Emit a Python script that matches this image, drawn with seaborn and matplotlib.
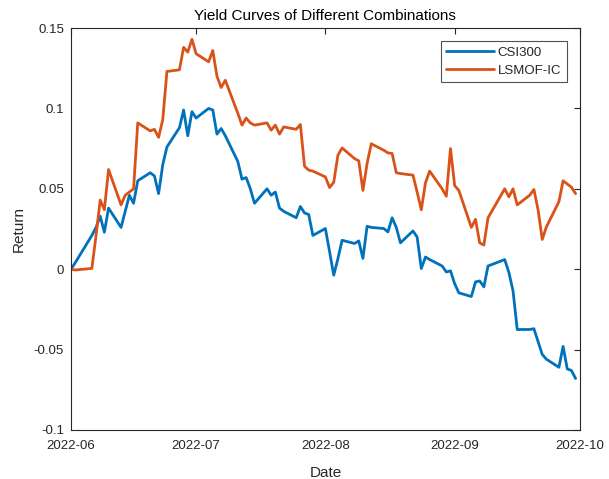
import pandas as pd
import matplotlib
matplotlib.use("Agg")
import matplotlib.pyplot as plt
import matplotlib.dates as mdates
from matplotlib.ticker import FuncFormatter
import seaborn as sns

# trading days (Jun 1 - Sep 30, 2022)
dates = [
    "2022-06-01", "2022-06-02", "2022-06-06", "2022-06-07", "2022-06-08", "2022-06-09", "2022-06-10",
    "2022-06-13", "2022-06-14", "2022-06-15", "2022-06-16", "2022-06-17",
    "2022-06-20", "2022-06-21", "2022-06-22", "2022-06-23", "2022-06-24",
    "2022-06-27", "2022-06-28", "2022-06-29", "2022-06-30", "2022-07-01",
    "2022-07-04", "2022-07-05", "2022-07-06", "2022-07-07", "2022-07-08",
    "2022-07-11", "2022-07-12", "2022-07-13", "2022-07-14", "2022-07-15",
    "2022-07-18", "2022-07-19", "2022-07-20", "2022-07-21", "2022-07-22",
    "2022-07-25", "2022-07-26", "2022-07-27", "2022-07-28", "2022-07-29",
    "2022-08-01", "2022-08-02", "2022-08-03", "2022-08-04", "2022-08-05",
    "2022-08-08", "2022-08-09", "2022-08-10", "2022-08-11", "2022-08-12",
    "2022-08-15", "2022-08-16", "2022-08-17", "2022-08-18", "2022-08-19",
    "2022-08-22", "2022-08-23", "2022-08-24", "2022-08-25", "2022-08-26",
    "2022-08-29", "2022-08-30", "2022-08-31", "2022-09-01", "2022-09-02",
    "2022-09-05", "2022-09-06", "2022-09-07", "2022-09-08", "2022-09-09",
    "2022-09-13", "2022-09-14", "2022-09-15", "2022-09-16",
    "2022-09-19", "2022-09-20", "2022-09-21", "2022-09-22", "2022-09-23",
    "2022-09-26", "2022-09-27", "2022-09-28", "2022-09-29", "2022-09-30",
]

csi300 = [
    0.000, 0.004, 0.021, 0.026, 0.033, 0.023, 0.038,
    0.026, 0.036, 0.046, 0.041, 0.055,
    0.060, 0.058, 0.047, 0.065, 0.076,
    0.088, 0.099, 0.083, 0.098, 0.094,
    0.100, 0.099, 0.084, 0.0875, 0.083,
    0.067, 0.056, 0.057, 0.050, 0.041,
    0.050, 0.046, 0.048, 0.038, 0.036,
    0.032, 0.039, 0.035, 0.034, 0.021,
    0.0253, 0.011, -0.0037, 0.0065, 0.018,
    0.016, 0.0176, 0.0067, 0.0267, 0.026,
    0.0253, 0.0232, 0.032, 0.026, 0.0164,
    0.0238, 0.020, 0.0004, 0.0076, 0.006,
    0.002, -0.0017, -0.001, -0.009, -0.0147,
    -0.017, -0.0079, -0.0073, -0.011, 0.002,
    0.006, -0.002, -0.0135, -0.0375,
    -0.0375, -0.037, -0.045, -0.053, -0.056,
    -0.061, -0.048, -0.062, -0.063, -0.068,
]

lsmof_ic = [
    0.000, -0.0005, 0.0005, 0.021, 0.043, 0.037, 0.062,
    0.040, 0.046, 0.048, 0.050, 0.091,
    0.086, 0.087, 0.082, 0.093, 0.123,
    0.124, 0.138, 0.135, 0.143, 0.134,
    0.129, 0.136, 0.120, 0.113, 0.1175,
    0.097, 0.0896, 0.094, 0.091, 0.0896,
    0.091, 0.0865, 0.0896, 0.084, 0.0885,
    0.087, 0.090, 0.064, 0.0616, 0.061,
    0.0574, 0.0508, 0.054, 0.0709, 0.0754,
    0.0688, 0.0674, 0.049, 0.0657, 0.078,
    0.074, 0.0723, 0.072, 0.060, 0.0595,
    0.0585, 0.048, 0.037, 0.0537, 0.061,
    0.050, 0.0454, 0.075, 0.052, 0.049,
    0.026, 0.031, 0.0164, 0.015, 0.032,
    0.050, 0.045, 0.050, 0.040,
    0.046, 0.0496, 0.037, 0.0185, 0.0263,
    0.042, 0.055, 0.053, 0.051, 0.047,
]

series_names = ["CSI300", "LSMOF-IC"]
colors = ["#0072BD", "#D95319"]
y_ticks = [-0.1, -0.05, 0, 0.05, 0.1, 0.15]
x_ticks = ["2022-06-01", "2022-07-01", "2022-08-01", "2022-09-01", "2022-10-01"]

df = pd.DataFrame({
    "Date": pd.to_datetime(dates * 2),
    "Return": csi300 + lsmof_ic,
    "Series": [series_names[0]] * len(dates) + [series_names[1]] * len(dates),
})

sns.set_style("white")
plt.rcParams["font.family"] = ["Liberation Sans", "DejaVu Sans"]
plt.rcParams["xtick.direction"] = "in"
plt.rcParams["ytick.direction"] = "in"

fig = plt.figure(figsize=(6.09, 4.79), dpi=100)
ax = fig.add_axes([0.1166, 0.1023, 0.8354, 0.8392])

sns.lineplot(data=df, x="Date", y="Return", hue="Series",
             palette=colors, linewidth=2.0, ax=ax)

ax.set_xlim(pd.Timestamp("2022-06-01"), pd.Timestamp("2022-10-01"))
ax.set_ylim(-0.1, 0.15)
ax.set_yticks(y_ticks)
ax.yaxis.set_major_formatter(FuncFormatter(lambda v, p: "%g" % round(v, 4)))
ax.set_xticks(pd.to_datetime(x_ticks))
ax.xaxis.set_major_formatter(mdates.DateFormatter("%Y-%m"))

axis_col = "#262626"
for s in ax.spines.values():
    s.set_color(axis_col)
    s.set_linewidth(0.8)
ax.tick_params(axis="both", colors=axis_col, labelsize=9.5, length=4, width=0.8,
               top=True, right=True, direction="in")
ax.tick_params(axis="x", pad=7)
ax.tick_params(axis="y", pad=5)

ax.set_title("Yield Curves of Different Combinations", fontsize=11, color="black", pad=6)
ax.set_xlabel("Date", fontsize=11, color=axis_col, labelpad=10)
ax.set_ylabel("Return", fontsize=11, color=axis_col, labelpad=6)

leg = ax.legend(loc="upper right", fontsize=9.5, frameon=True, fancybox=False,
                handlelength=3.6, borderaxespad=1.0, handletextpad=0.3,
                labelspacing=0.45, borderpad=0.4)
leg.get_frame().set_edgecolor(axis_col)
leg.get_frame().set_linewidth(0.8)

fig.savefig("out.png", dpi=100)
